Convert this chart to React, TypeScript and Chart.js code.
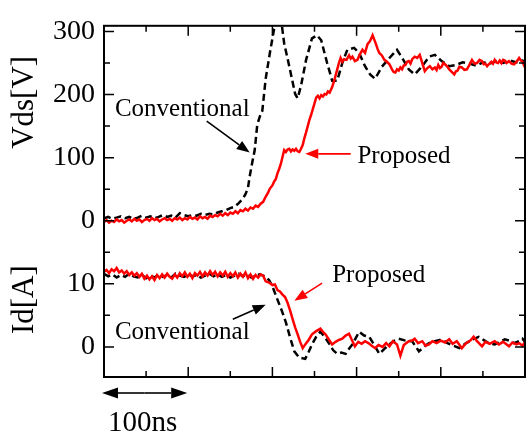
import { useEffect, useRef } from 'react';
import { Chart, registerables } from 'chart.js';

Chart.register(...registerables);

// ---- data (time in ns) ----
const proposedVds: [number, number][] = [
  [0,-2],[3,1],[6,-3],[9,0],[12,-2],[15,2],[18,-1],[21,1],[24,-3],[27,0],[30,2],[33,-1],[36,3],[39,0],[42,2],[45,-2],[48,1],[51,3],[54,0],[57,4],[60,1],[63,3],[66,-1],[69,2],[72,4],[75,1],[78,3],[81,0],[84,4],[87,2],[90,5],[93,1],[96,4],[99,2],[102,6],[105,3],[108,5],[111,2],[114,7],[117,4],[120,6],[123,3],[126,8],[129,6],[132,9],[135,7],[138,11],[141,8],[144,12],[147,9],[150,13],[153,11],[156,15],[159,12],[162,17],[165,15],[168,19],[171,16],[174,21],[177,19],[180,24],[183,22],[186,27],[189,30],[192,38],[195,45],[197,51],[200,56],[202,62],[204,66],[206,75],[208,82],[210,90],[212,101],[214,112],[216,109],[218,113],[220,114],[222,110],[224,113],[226,111],[228,114],[230,110],[232,109],[234,114],[236,120],[238,131],[240,140],[242,150],[244,160],[246,168],[248,177],[250,186],[252,195],[254,198],[256,194],[258,199],[260,197],[262,201],[264,200],[266,205],[268,203],[271,212],[274,225],[277,240],[279,250],[281,258],[283,252],[285,256],[288,255],[291,262],[293,257],[295,260],[298,253],[301,255],[304,264],[307,271],[310,266],[313,280],[316,285],[319,294],[321,287],[323,280],[325,272],[327,266],[330,262],[333,255],[336,252],[339,248],[342,240],[344,236],[346,235],[348,240],[350,238],[352,243],[354,240],[356,246],[358,247],[360,252],[362,253],[364,249],[366,256],[369,260],[372,258],[375,263],[378,250],[381,237],[384,242],[387,245],[390,240],[393,243],[395,239],[397,247],[399,242],[401,244],[403,250],[405,248],[408,244],[410,240],[413,236],[416,232],[418,237],[420,238],[422,244],[425,243],[428,239],[431,240],[434,247],[437,255],[440,249],[443,250],[446,255],[449,253],[451,248],[453,249],[455,245],[457,248],[460,252],[462,249],[464,255],[466,251],[468,250],[470,254],[472,250],[474,255],[476,254],[478,250],[481,253],[484,249],[487,248],[490,252],[493,258],[495,254],[497,252],[500,243]
];

const conventionalVds: [number, number][] = [
  [0,4],[5,6],[10,3],[15,5],[20,7],[25,4],[30,6],[35,3],[40,5],[45,8],[50,5],[55,7],[60,4],[65,6],[70,9],[75,6],[80,8],[85,5],[90,12],[95,9],[100,7],[105,9],[110,8],[115,11],[120,9],[125,11],[130,10],[135,13],[140,15],[145,17],[150,20],[155,22],[160,28],[165,35],[168,42],[171,52],[173,70],[176,92],[179,112],[182,152],[185,165],[188,174],[192,225],[197,266],[202,304],[206,315],[211,312],[214,281],[220,245],[227,201],[230,194],[234,214],[240,255],[247,289],[253,294],[258,286],[265,250],[271,222],[277,222],[283,250],[289,271],[297,274],[303,266],[310,245],[316,232],[322,225],[330,244],[339,258],[348,271],[355,256],[362,240],[369,232],[378,245],[386,260],[393,263],[401,253],[410,245],[418,247],[426,251],[434,249],[442,246],[450,251],[458,249],[466,253],[474,250],[482,254],[490,251],[497,254],[500,252]
];

const proposedId: [number, number][] = [
  [0,11.9],[3,12.2],[6,11.7],[9,12.3],[12,12.0],[15,12.5],[18,11.8],[21,12.1],[24,11.6],[27,12.0],[30,11.4],[33,11.8],[36,11.3],[39,11.7],[42,11.1],[45,11.6],[48,10.8],[51,11.3],[54,10.7],[57,11.2],[60,10.6],[63,11.4],[66,10.9],[69,11.5],[72,11.0],[75,11.6],[78,11.1],[81,10.8],[84,11.5],[87,11.0],[90,11.7],[93,11.2],[96,11.8],[99,11.1],[102,11.6],[105,10.9],[108,11.7],[111,11.3],[114,11.9],[117,11.2],[120,11.8],[123,11.3],[126,12.0],[129,11.4],[132,11.9],[135,11.2],[138,11.8],[141,11.3],[144,11.9],[147,11.1],[150,11.7],[153,11.2],[156,11.8],[159,11.0],[162,11.6],[165,11.1],[168,11.8],[171,10.9],[174,11.5],[177,10.8],[180,11.4],[183,11.0],[186,11.5],[189,11.3],[192,10.4],[196,10.2],[200,9.8],[203,9.9],[206,9.0],[209,8.8],[212,8.3],[215,7.9],[218,7.0],[221,5.8],[224,4.4],[227,3.1],[230,2.0],[233,0.8],[236,-0.2],[239,0.4],[243,1.1],[247,2.0],[252,2.5],[257,2.9],[260,2.4],[263,2.0],[267,1.2],[271,0.4],[275,0.8],[279,1.1],[283,1.3],[287,1.8],[291,2.1],[294,1.2],[298,0.1],[302,0.8],[306,0.5],[310,0.9],[314,0.6],[318,0.2],[322,-0.2],[326,0.3],[331,0.0],[335,0.6],[339,0.1],[343,0.9],[348,0.4],[352,-1.4],[356,0.3],[362,0.9],[366,1.0],[369,1.3],[373,0.6],[378,0.9],[382,0.2],[386,0.4],[390,0.9],[395,0.6],[400,1.0],[405,0.7],[410,1.2],[414,0.5],[419,0.9],[425,-0.2],[430,0.6],[435,1.0],[439,1.6],[443,0.9],[449,0.1],[453,0.8],[458,0.5],[464,0.9],[469,0.4],[474,0.8],[481,0.1],[485,0.7],[490,0.4],[493,0.6],[497,0.2],[500,0.8]
];

const conventionalId: [number, number][] = [
  [0,11.6],[5,11.2],[10,11.5],[15,11.0],[20,11.4],[25,11.1],[30,11.6],[35,11.2],[40,11.0],[45,11.4],[50,10.9],[55,11.3],[60,11.0],[65,11.5],[70,11.1],[75,11.4],[80,11.0],[85,11.6],[90,11.3],[95,11.1],[100,11.5],[105,11.2],[110,11.4],[115,11.0],[120,11.3],[125,11.6],[130,11.2],[135,11.5],[140,11.1],[145,11.4],[150,11.0],[155,11.3],[160,11.6],[165,11.2],[170,11.5],[175,11.0],[180,11.3],[185,11.5],[191,11.2],[196,10.6],[200,9.6],[206,7.5],[211,5.8],[216,3.9],[221,1.5],[226,-0.7],[232,-1.7],[239,-1.9],[243,-0.8],[247,0.4],[252,1.6],[257,2.4],[262,1.6],[268,0.4],[272,-0.5],[277,-1.1],[282,-0.9],[287,-1.1],[291,-0.3],[295,0.4],[299,1.4],[303,2.4],[309,1.8],[315,1.6],[321,0.3],[327,-1.1],[333,-0.3],[339,0.4],[345,1.0],[350,1.3],[358,1.0],[366,0.9],[370,0.1],[374,-0.7],[380,0.0],[386,0.6],[393,0.9],[401,1.2],[408,0.6],[415,0.2],[422,-0.2],[430,0.6],[438,1.2],[445,1.6],[452,1.0],[458,0.5],[464,0.4],[470,0.8],[476,1.2],[481,1.0],[487,0.6],[493,0.9],[497,1.3],[500,0.8]
];

// tick labels
const vdsTickLabels = [0, 100, 200, 300];
const idTickLabels = [0, 10];
const vdsMinorTicks = [50, 150, 250];
const idMinorTicks = [5, 15];
const timeMajorTicks = [100, 200, 300, 400];
const timeMinorTicks = [50, 150, 250, 350, 450];

// axis ranges (Vds and Id share the plot area, Id 20 A sits on Vds 0 V)
const VDS_MIN = -247.7;
const VDS_MAX = 309;
const idFromVds = (v: number) => 20 + v / 10;
const vdsFromId = (i: number) => (i - 20) * 10;

const SERIF = '"Liberation Serif", "Times New Roman", serif';

function drawArrow(ctx: CanvasRenderingContext2D, x1: number, y1: number, x2: number, y2: number, color: string, head = 13, hw = 5) {
  const ang = Math.atan2(y2 - y1, x2 - x1);
  const bx = x2 - Math.cos(ang) * head;
  const by = y2 - Math.sin(ang) * head;
  ctx.strokeStyle = color;
  ctx.fillStyle = color;
  ctx.lineWidth = 1.6;
  ctx.beginPath();
  ctx.moveTo(x1, y1);
  ctx.lineTo(bx, by);
  ctx.stroke();
  ctx.beginPath();
  ctx.moveTo(x2, y2);
  ctx.lineTo(bx + Math.sin(ang) * hw, by - Math.cos(ang) * hw);
  ctx.lineTo(bx - Math.sin(ang) * hw, by + Math.cos(ang) * hw);
  ctx.closePath();
  ctx.fill();
}

const framePlugin = {
  id: 'frame',
  afterDraw(chart: any) {
    const { ctx, chartArea: a, scales } = chart;
    const xs = scales.x;
    const ys = scales.y;
    const yi = scales.yId;
    ctx.save();
    ctx.strokeStyle = '#000';
    ctx.lineWidth = 2;
    ctx.setLineDash([]);
    ctx.strokeRect(a.left, a.top, a.right - a.left, a.bottom - a.top);

    ctx.lineWidth = 1.5;
    const hTick = (py: number, len: number) => {
      ctx.beginPath();
      ctx.moveTo(a.left, py); ctx.lineTo(a.left + len, py);
      ctx.moveTo(a.right, py); ctx.lineTo(a.right - len, py);
      ctx.stroke();
    };
    const vTick = (px: number, len: number) => {
      ctx.beginPath();
      ctx.moveTo(px, a.top); ctx.lineTo(px, a.top + len);
      ctx.moveTo(px, a.bottom); ctx.lineTo(px, a.bottom - len);
      ctx.stroke();
    };
    vdsTickLabels.forEach((v) => hTick(ys.getPixelForValue(v), 10));
    vdsMinorTicks.forEach((v) => hTick(ys.getPixelForValue(v), 6));
    idTickLabels.forEach((v) => hTick(yi.getPixelForValue(v), 10));
    idMinorTicks.forEach((v) => hTick(yi.getPixelForValue(v), 6));
    timeMajorTicks.forEach((t) => vTick(xs.getPixelForValue(t), 10));
    timeMinorTicks.forEach((t) => vTick(xs.getPixelForValue(t), 6));

    // axis titles
    ctx.fillStyle = '#000';
    ctx.font = `31px ${SERIF}`;
    ctx.textAlign = 'center';
    ctx.textBaseline = 'middle';
    const title = (text: string, cy: number) => {
      ctx.save();
      ctx.translate(25, cy);
      ctx.rotate(-Math.PI / 2);
      ctx.fillText(text, 0, 0);
      ctx.restore();
    };
    title('Vds[V]', (ys.getPixelForValue(150) + ys.getPixelForValue(200)) / 2 - 8);
    title('Id[A]', yi.getPixelForValue(7.5));

    // annotations
    ctx.font = `25px ${SERIF}`;
    ctx.textAlign = 'left';
    ctx.textBaseline = 'alphabetic';
    ctx.fillStyle = '#000';
    ctx.fillText('Conventional', xs.getPixelForValue(13), ys.getPixelForValue(166));
    ctx.fillText('Conventional', xs.getPixelForValue(13), yi.getPixelForValue(1.3));
    ctx.fillText('Proposed', xs.getPixelForValue(301), ys.getPixelForValue(91));
    ctx.fillText('Proposed', xs.getPixelForValue(271), yi.getPixelForValue(10.3));

    drawArrow(ctx, xs.getPixelForValue(122), ys.getPixelForValue(158), xs.getPixelForValue(173), ys.getPixelForValue(108), '#000');
    drawArrow(ctx, xs.getPixelForValue(293), ys.getPixelForValue(106), xs.getPixelForValue(239), ys.getPixelForValue(106), '#f00');
    drawArrow(ctx, xs.getPixelForValue(153), yi.getPixelForValue(4.4), xs.getPixelForValue(192), yi.getPixelForValue(6.7), '#000');
    drawArrow(ctx, xs.getPixelForValue(259), yi.getPixelForValue(10.1), xs.getPixelForValue(226), yi.getPixelForValue(7.3), '#f00');

    // 100 ns scale arrow
    const ay = a.bottom + 16;
    const x0 = xs.getPixelForValue(0) - 2;
    const x1 = xs.getPixelForValue(100) - 1;
    const mid = (x0 + x1) / 2;
    drawArrow(ctx, mid, ay, x0, ay, '#000', 16, 5.5);
    drawArrow(ctx, mid, ay, x1, ay, '#000', 16, 5.5);
    ctx.font = `29px ${SERIF}`;
    ctx.fillStyle = '#000';
    ctx.fillText('100ns', x0 + 6, 431);
    ctx.restore();
  },
};

export default function App() {
  const ref = useRef<HTMLCanvasElement>(null);
  useEffect(() => {
    if (!ref.current) return;
    const toXY = (arr: [number, number][]) => arr.map(([x, y]) => ({ x, y }));
    const chart = new Chart(ref.current, {
      type: 'line',
      data: {
        datasets: [
          { label: 'Proposed Vds', data: toXY(proposedVds), yAxisID: 'y', borderColor: '#f00', borderWidth: 2.5, pointRadius: 0, tension: 0, fill: false },
          { label: 'Proposed Id', data: toXY(proposedId), yAxisID: 'yId', borderColor: '#f00', borderWidth: 2.5, pointRadius: 0, tension: 0, fill: false },
          { label: 'Conventional Vds', data: toXY(conventionalVds), yAxisID: 'y', borderColor: '#000', borderWidth: 2.5, borderDash: [7, 4], pointRadius: 0, tension: 0, fill: false },
          { label: 'Conventional Id', data: toXY(conventionalId), yAxisID: 'yId', borderColor: '#000', borderWidth: 2.5, borderDash: [7, 4], pointRadius: 0, tension: 0, fill: false },
        ],
      },
      options: {
        animation: false,
        responsive: false,
        devicePixelRatio: 1,
        layout: { padding: { left: 0, right: 1, top: 15, bottom: 56 } },
        plugins: { legend: { display: false }, tooltip: { enabled: false } },
        scales: {
          x: { type: 'linear', min: 0, max: 500, display: false },
          y: {
            type: 'linear',
            position: 'left',
            min: VDS_MIN,
            max: VDS_MAX,
            grid: { display: false, drawTicks: false },
            border: { display: false },
            afterFit: (s: any) => { s.width = 104; },
            afterBuildTicks: (s: any) => {
              s.ticks = [...idTickLabels.map(vdsFromId), ...vdsTickLabels].map((v) => ({ value: v }));
            },
            ticks: {
              padding: 9,
              color: '#000',
              font: { family: SERIF, size: 28 },
              callback: (value: any) => {
                const v = Number(value);
                if (v >= 0) return vdsTickLabels.includes(v) ? String(v) : '';
                const id = Math.round(idFromVds(v));
                return idTickLabels.includes(id) ? String(id) : '';
              },
            },
          },
          yId: {
            type: 'linear',
            display: false,
            min: idFromVds(VDS_MIN),
            max: idFromVds(VDS_MAX),
          },
        },
      },
      plugins: [framePlugin],
    });
    return () => chart.destroy();
  }, []);
  return (
    <div style={{ position: 'absolute', left: 0, top: 0, width: 526, height: 433, background: '#fff' }}>
      <canvas ref={ref} width={526} height={433} style={{ display: 'block' }} />
    </div>
  );
}
